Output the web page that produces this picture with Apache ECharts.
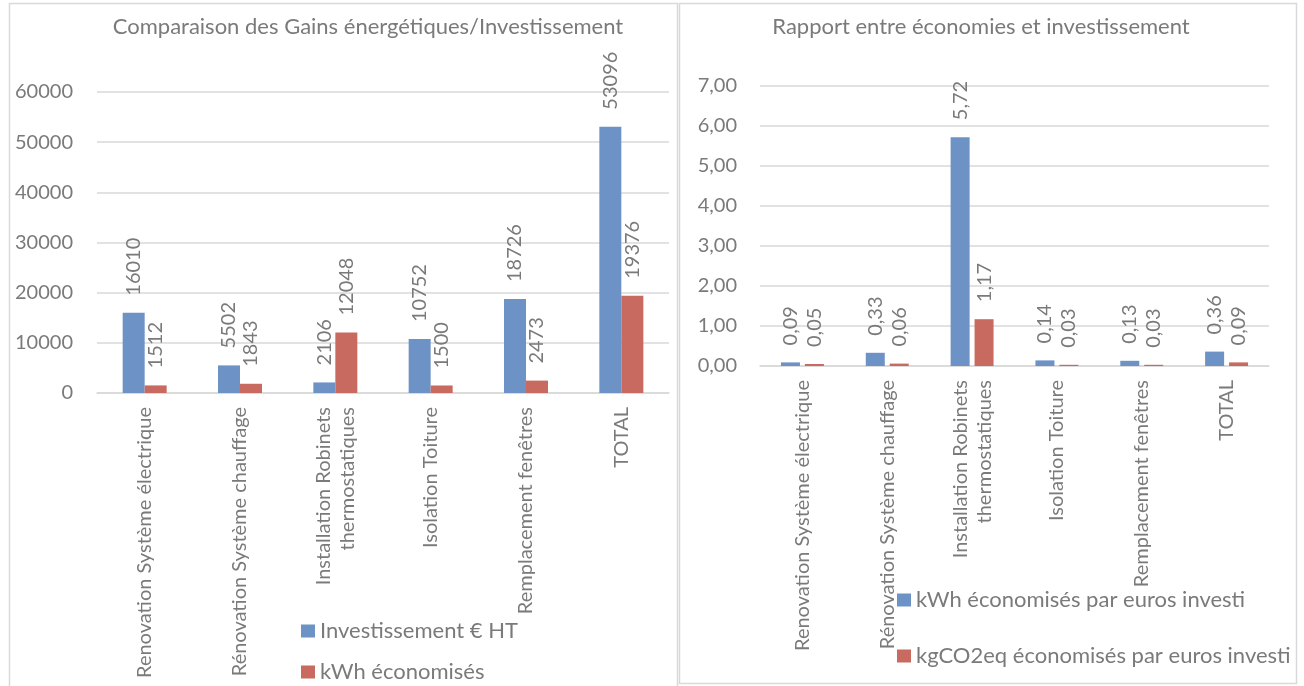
<!DOCTYPE html>
<html>
<head>
<meta charset="utf-8">
<script src="https://cdn.jsdelivr.net/npm/echarts@6/dist/echarts.min.js"></script>
<style>
  html, body { margin: 0; padding: 0; background: #fff; }
  #chart { width: 1304px; height: 686px; }
</style>
</head>
<body>
<div id="chart"></div>
<script>
// categories shared by both charts
const categories = [
  'Renovation Système électrique',
  'Rénovation Système chauffage',
  'Installation Robinets\nthermostatiques',
  'Isolation Toiture',
  'Remplacement fenêtres',
  'TOTAL'
]
// left chart
const investissement = [16010, 5502, 2106, 10752, 18726, 53096]
const kwhEconomises = [1512, 1843, 12048, 1500, 2473, 19376]
// right chart
const kwhParEuro = [0.09, 0.33, 5.72, 0.14, 0.13, 0.36]
const co2ParEuro = [0.05, 0.06, 1.17, 0.03, 0.03, 0.09]

const font = 'Lato'
const grey = '#7a7a7a'
const blue = '#6d92c6'
const red = '#c96a60'
const fr = v => v.toFixed(2).replace('.', ',')

const legendText = { fontFamily: font, fontSize: 22, color: grey }
const catAxis = (gridIndex) => ({
  type: 'category',
  gridIndex,
  data: categories,
  axisTick: { show: false },
  axisLine: { lineStyle: { color: '#d9d9d9', width: 1.5 } },
  axisLabel: {
    interval: 0, rotate: 90, margin: 14, fontFamily: font,
    fontSize: 20, lineHeight: 24, color: grey
  }
})
const barLabel = (fmt) => ({
  show: true, position: 'top', rotate: 90, distance: 17,
  align: 'left', verticalAlign: 'middle',
  fontFamily: font, fontSize: 20, color: grey,
  formatter: fmt
})

const chart = echarts.init(document.getElementById('chart'))
chart.setOption({
  animation: false,
  graphic: [
    { type: 'rect', shape: { x: 9.5, y: 3.5, width: 668, height: 690 }, style: { fill: 'none', stroke: '#d9d9d9', lineWidth: 1.5 } },
    { type: 'rect', shape: { x: 679.5, y: 3.5, width: 617, height: 680 }, style: { fill: 'none', stroke: '#d9d9d9', lineWidth: 1.5 } }
  ],
  title: [
    { text: 'Comparaison des Gains énergétiques/Investissement', left: 363, top: 11, textAlign: 'center',
      textStyle: { fontFamily: font, fontSize: 22, fontWeight: 'normal', color: grey } },
    { text: 'Rapport entre économies et investissement', left: 976, top: 11, textAlign: 'center',
      textStyle: { fontFamily: font, fontSize: 22, fontWeight: 'normal', color: grey } }
  ],
  legend: [
    { data: ['Investissement € HT', 'kWh économisés'], orient: 'vertical', left: 296, top: 615, height: 100,
      itemWidth: 14, itemHeight: 13, itemGap: 19, icon: 'rect', textStyle: legendText },
    { data: ['kWh économisés par euros investi', 'kgCO2eq économisés par euros investi'], orient: 'vertical', left: 892, top: 584, height: 100,
      itemWidth: 14, itemHeight: 13, itemGap: 34, icon: 'rect', textStyle: legendText }
  ],
  grid: [
    { left: 97, right: 1304 - 669, top: 92, height: 301 },
    { left: 760, right: 1304 - 1269, top: 86, height: 280 }
  ],
  xAxis: [catAxis(0), catAxis(1)],
  yAxis: [
    { type: 'value', gridIndex: 0, min: 0, max: 60000, interval: 10000,
      axisLabel: { margin: 24, fontFamily: font, fontSize: 20, color: grey, formatter: v => String(v) },
      splitLine: { lineStyle: { color: '#d9d9d9', width: 1.5 } } },
    { type: 'value', gridIndex: 1, min: 0, max: 7, interval: 1,
      axisLabel: { margin: 23, fontFamily: font, fontSize: 20, color: grey, formatter: v => fr(v) },
      splitLine: { lineStyle: { color: '#d9d9d9', width: 1.5 } } }
  ],
  series: [
    { name: 'Investissement € HT', type: 'bar', xAxisIndex: 0, yAxisIndex: 0, data: investissement,
      barWidth: 22, barGap: '0%', itemStyle: { color: blue }, label: barLabel() },
    { name: 'kWh économisés', type: 'bar', xAxisIndex: 0, yAxisIndex: 0, data: kwhEconomises,
      barWidth: 22, barGap: '0%', itemStyle: { color: red }, label: barLabel() },
    { name: 'kWh économisés par euros investi', type: 'bar', xAxisIndex: 1, yAxisIndex: 1, data: kwhParEuro,
      barWidth: 19, barGap: '26%', itemStyle: { color: blue }, label: barLabel(p => fr(p.value)) },
    { name: 'kgCO2eq économisés par euros investi', type: 'bar', xAxisIndex: 1, yAxisIndex: 1, data: co2ParEuro,
      barWidth: 19, barGap: '26%', itemStyle: { color: red }, label: barLabel(p => fr(p.value)) }
  ]
})
</script>
</body>
</html>
